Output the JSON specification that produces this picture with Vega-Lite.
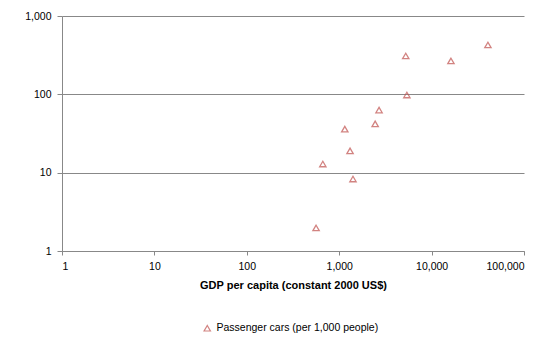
{
  "$schema": "https://vega.github.io/schema/vega-lite/v6.json",
  "width": 462,
  "height": 235,
  "autosize": {"type": "none"},
  "padding": {"left": 62, "top": 16, "right": 26, "bottom": 90},
  "background": "white",
  "config": {
    "view": {"stroke": null},
    "font": "Liberation Sans",
    "axis": {"labelFont": "Liberation Sans", "titleFont": "Liberation Sans"}
  },
  "data": {
    "values": [
      {"gdp": 562, "cars": 1.97, "series": "Passenger cars (per 1,000 people)"},
      {"gdp": 665, "cars": 12.9, "series": "Passenger cars (per 1,000 people)"},
      {"gdp": 1150, "cars": 36, "series": "Passenger cars (per 1,000 people)"},
      {"gdp": 1310, "cars": 19, "series": "Passenger cars (per 1,000 people)"},
      {"gdp": 1410, "cars": 8.3, "series": "Passenger cars (per 1,000 people)"},
      {"gdp": 2450, "cars": 42, "series": "Passenger cars (per 1,000 people)"},
      {"gdp": 2700, "cars": 63, "series": "Passenger cars (per 1,000 people)"},
      {"gdp": 5250, "cars": 309, "series": "Passenger cars (per 1,000 people)"},
      {"gdp": 5400, "cars": 98, "series": "Passenger cars (per 1,000 people)"},
      {"gdp": 16200, "cars": 267, "series": "Passenger cars (per 1,000 people)"},
      {"gdp": 40700, "cars": 427, "series": "Passenger cars (per 1,000 people)"}
    ]
  },
  "mark": {"type": "point", "shape": "triangle-up", "filled": false, "size": 40, "strokeWidth": 1.3},
  "encoding": {
    "x": {
      "field": "gdp", "type": "quantitative",
      "scale": {"type": "log", "domain": [1, 100000], "nice": false},
      "axis": {
        "values": [1, 10, 100, 1000, 10000, 100000], "format": ",", "grid": false,
        "title": "GDP per capita (constant  2000 US$)", "titleFontWeight": "bold", "titleFontSize": 11, "titleColor": "#000", "titlePadding": 8,
        "labelFontSize": 10.5, "labelColor": "#000", "labelPadding": 6,
        "domainColor": "#888", "tickColor": "#888", "tickSize": 4
      }
    },
    "y": {
      "field": "cars", "type": "quantitative",
      "scale": {"type": "log", "domain": [1, 1000], "nice": false},
      "axis": {
        "values": [1, 10, 100, 1000], "format": ",", "title": null,
        "gridColor": "#888", "gridWidth": 1,
        "labelFontSize": 10.5, "labelColor": "#000", "labelPadding": 6,
        "domainColor": "#888", "tickColor": "#888", "tickSize": 5
      }
    },
    "color": {
      "field": "series", "type": "nominal",
      "scale": {"range": ["#C0504D"]},
      "legend": {
        "title": null, "orient": "none", "legendX": 140, "legendY": 307,
        "labelFontSize": 10.5, "labelColor": "#000", "labelLimit": 0, "symbolSize": 40, "symbolStrokeWidth": 1.2
      }
    },
    "shape": {"value": "triangle-up"}
  }
}
